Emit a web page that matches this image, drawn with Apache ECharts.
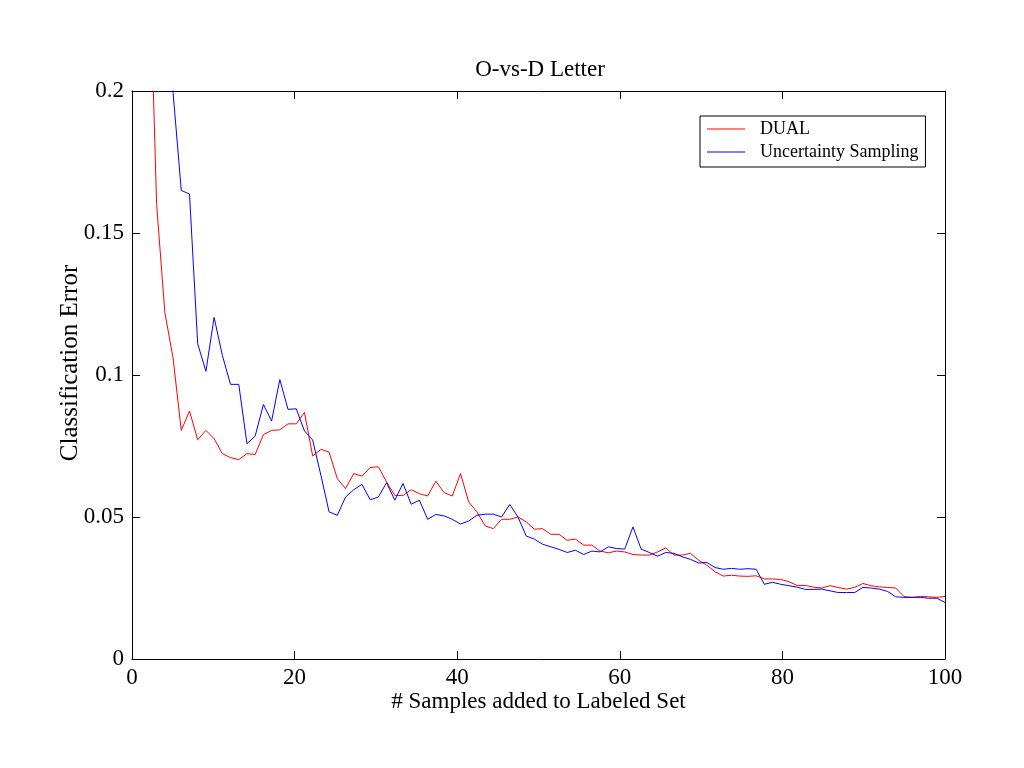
<!DOCTYPE html>
<html>
<head>
<meta charset="utf-8">
<title>O-vs-D Letter</title>
<script src="https://cdn.jsdelivr.net/npm/echarts@6/dist/echarts.min.js"></script>
<style>
  html, body { margin: 0; padding: 0; background: #fff; }
  #main { width: 1024px; height: 768px; }
</style>
</head>
<body>
<div id="main"></div>
<script>
// 数据 : 100 points each, first few are above the 0.2 limit and get clipped
var dualErr = [
  0.45, 0.35, 0.26, 0.16, 0.122, 0.106, 0.0805, 0.0873, 0.0772, 0.0805,
  0.0776, 0.0723, 0.0709, 0.0702, 0.0723, 0.072, 0.079, 0.0805, 0.0807, 0.0828,
  0.0828, 0.0868, 0.0715, 0.0738, 0.0729, 0.0635, 0.06, 0.0653, 0.0644, 0.0674,
  0.0677, 0.0623, 0.0576, 0.0576, 0.0596, 0.0582, 0.0574, 0.0626, 0.0586, 0.0574,
  0.0653, 0.0553, 0.0518, 0.0469, 0.0459, 0.0492, 0.0492, 0.05, 0.0483, 0.0457,
  0.0459, 0.0439, 0.0439, 0.0418, 0.0422, 0.0401, 0.0401, 0.038, 0.0374, 0.038,
  0.0377, 0.0368, 0.0366, 0.0366, 0.0377, 0.0391, 0.0366, 0.0366, 0.0372, 0.0348,
  0.033, 0.0307, 0.0292, 0.0295, 0.0292, 0.0291, 0.0293, 0.0282, 0.0282, 0.028,
  0.0272, 0.0259, 0.0259, 0.0253, 0.025, 0.0258, 0.0252, 0.0246, 0.0252, 0.0266,
  0.0258, 0.0254, 0.0252, 0.025, 0.022, 0.0217, 0.022, 0.0219, 0.0217, 0.022
];
var uncertErr = [
  0.5, 0.42, 0.35, 0.3, 0.25, 0.1995, 0.165, 0.1637, 0.111, 0.1013,
  0.1203, 0.1069, 0.0967, 0.0967, 0.0758, 0.0785, 0.0896, 0.0838, 0.0984, 0.0879,
  0.0881, 0.0803, 0.0771, 0.0647, 0.0518, 0.0506, 0.057, 0.0596, 0.0615, 0.0561,
  0.057, 0.0621, 0.0559, 0.0618, 0.0545, 0.0559, 0.0492, 0.0509, 0.0504, 0.0492,
  0.0475, 0.0486, 0.0506, 0.051, 0.051, 0.05, 0.0544, 0.05, 0.0433, 0.0422,
  0.0404, 0.0395, 0.0386, 0.0375, 0.0383, 0.0368, 0.038, 0.0377, 0.0395, 0.0389,
  0.0387, 0.0465, 0.0387, 0.0375, 0.0362, 0.0375, 0.0372, 0.036, 0.0351, 0.0338,
  0.034, 0.0322, 0.0316, 0.0319, 0.0316, 0.0318, 0.0316, 0.0263, 0.027, 0.0263,
  0.0258, 0.0253, 0.0245, 0.0245, 0.0246, 0.024, 0.0234, 0.0234, 0.0234, 0.0252,
  0.025, 0.0246, 0.0238, 0.0219, 0.0217, 0.0217, 0.0217, 0.0214, 0.0214, 0.0199
];
var seriesNames = ['DUAL', 'Uncertainty Sampling'];
var xTicks = [0, 20, 40, 60, 80, 100];
var yTicks = [0, 0.05, 0.1, 0.15, 0.2];

// the 100 points are spread evenly from 0 to 100 on the x axis
function toPairs(arr) {
  var res = [];
  for (var i = 0; i < arr.length; i++) {
    res.push([i * 100 / (arr.length - 1), arr[i]]);
  }
  return res;
}

var FONT = 'Liberation Serif';
var myChart = echarts.init(document.getElementById('main'));

var tickCommon = { show: true, inside: true, length: 8, lineStyle: { color: '#000', width: 1 } };
var lineCommon = { show: true, onZero: false, lineStyle: { color: '#000', width: 1 } };

var option = {
  backgroundColor: '#fff',
  animation: false,
  title: {
    text: 'O-vs-D Letter',
    left: 535,
    top: 53,
    textAlign: 'center',
    textStyle: { fontFamily: FONT, fontSize: 23, fontWeight: 'normal', color: '#000' }
  },
  legend: {
    data: seriesNames,
    orient: 'vertical',
    left: 700,
    top: 116,
    padding: [4, 7, 6, 7],
    itemGap: 5,
    itemWidth: 38,
    itemHeight: 1,
    icon: 'rect',
    borderColor: '#000',
    borderWidth: 1,
    borderRadius: 0,
    textStyle: { fontFamily: FONT, fontSize: 18, lineHeight: 18, color: '#000', padding: [0, 0, 0, 10] }
  },
  grid: { left: 132, right: 79, top: 91, bottom: 109 },
  xAxis: [
    {
      type: 'value', min: xTicks[0], max: xTicks[xTicks.length - 1], interval: 20,
      position: 'bottom',
      name: '# Samples added to Labeled Set',
      nameLocation: 'middle', nameGap: 31, nameMoveOverlap: false,
      nameTextStyle: { fontFamily: FONT, fontSize: 23, color: '#000' },
      axisLine: lineCommon, axisTick: tickCommon,
      axisLabel: { fontFamily: FONT, fontSize: 23, color: '#000', margin: 7 },
      splitLine: { show: false }
    },
    {
      type: 'value', min: xTicks[0], max: xTicks[xTicks.length - 1], interval: 20,
      position: 'top',
      axisLine: lineCommon, axisTick: tickCommon,
      axisLabel: { show: false }, splitLine: { show: false }
    }
  ],
  yAxis: [
    {
      type: 'value', min: yTicks[0], max: yTicks[yTicks.length - 1], interval: 0.05,
      position: 'left',
      name: 'Classification Error',
      nameLocation: 'middle', nameGap: 49, nameMoveOverlap: false,
      nameTextStyle: { fontFamily: FONT, fontSize: 25, color: '#000', padding: [0, 0, 0, 24] },
      axisLine: lineCommon, axisTick: tickCommon,
      axisLabel: { fontFamily: FONT, fontSize: 23, color: '#000', margin: 8 },
      splitLine: { show: false }
    },
    {
      type: 'value', min: yTicks[0], max: yTicks[yTicks.length - 1], interval: 0.05,
      position: 'right',
      axisLine: lineCommon, axisTick: tickCommon,
      axisLabel: { show: false }, splitLine: { show: false }
    }
  ],
  series: [
    {
      name: seriesNames[0], type: 'line', data: toPairs(dualErr),
      symbol: 'none', clip: true, color: '#ff0000',
      lineStyle: { color: '#ff0000', width: 1 }
    },
    {
      name: seriesNames[1], type: 'line', data: toPairs(uncertErr),
      symbol: 'none', clip: true, color: '#0000ff',
      lineStyle: { color: '#0000ff', width: 1 }
    }
  ]
};
myChart.setOption(option);
</script>
</body>
</html>
